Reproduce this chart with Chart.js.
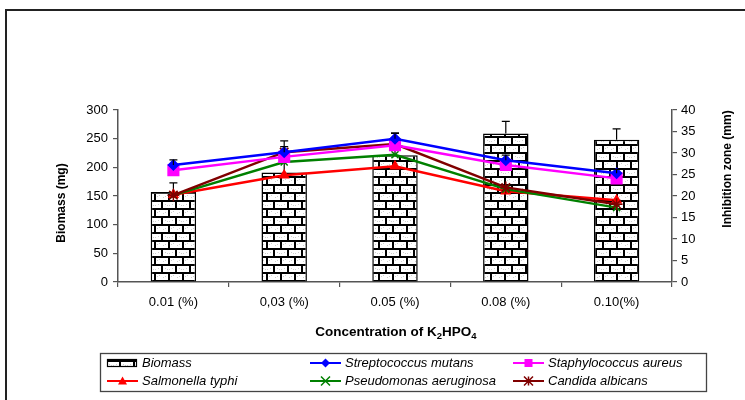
<!DOCTYPE html>
<html>
<head>
<meta charset="utf-8">
<script src="https://cdn.jsdelivr.net/npm/chart.js"></script>
<style>
    html, body { margin: 0; padding: 0; background: #fff; }
    #grafico { display: block; }
</style>
</head>
<body>
<canvas id="grafico" width="745" height="400"></canvas>
<script>
// dados
const categorias = ['0.01 (%)', '0,03 (%)', '0.05 (%)', '0.08 (%)', '0.10(%)']
const biomassa = [157, 191, 221, 259, 248]
const biomassaErro = [16, 55, 38, 21, 19]
const strepMutans = [27.2, 30.2, 33.3, 28.3, 25.3]
const strepErro = [1.2, 1.3, 1.4, 1.2, 0.9]
const staphAureus = [26.0, 29.1, 31.8, 27.2, 24.1]
const salmonella = [20.3, 24.8, 26.9, 21.1, 19.0]
const pseudomonas = [20.2, 27.9, 29.6, 21.6, 17.3]
const candida = [20.2, 30.2, 32.1, 22.0, 18.1]

Chart.defaults.font.family = '"Liberation Sans", Arial, sans-serif'
Chart.defaults.color = '#000'

const fonte = '"Liberation Sans", Arial, sans-serif'

/*
* padrao de tijolos das barras
*/
const criarTijolo = (ctx) => {
    const c = document.createElement('canvas')
    c.width = 14
    c.height = 16
    const g = c.getContext('2d')
    g.fillStyle = '#fff'
    g.fillRect(0, 0, 14, 16)
    g.fillStyle = '#cfcfcf';
    [[3, 4], [9, 5], [5, 3], [11, 4], [4, 12], [1, 13], [11, 12], [13, 13]].forEach(([x, y]) => g.fillRect(x, y, 1, 1))
    g.fillStyle = '#000'
    g.fillRect(0, 0, 14, 2)
    g.fillRect(0, 8, 14, 2)
    g.fillRect(0, 0, 2, 8)
    g.fillRect(7, 8, 2, 8)
    return ctx.createPattern(c, 'repeat')
}

const desenharMarcador = (ctx, tipo, x, y, r, cor) => {
    ctx.save()
    ctx.fillStyle = cor
    ctx.strokeStyle = cor
    ctx.lineWidth = 1.5
    ctx.beginPath()
    if (tipo === 'rectRot') {
        ctx.moveTo(x, y - r); ctx.lineTo(x + r, y); ctx.lineTo(x, y + r); ctx.lineTo(x - r, y); ctx.closePath(); ctx.fill()
    } else if (tipo === 'rect') {
        ctx.fillRect(x - r, y - r, 2 * r, 2 * r)
    } else if (tipo === 'triangle') {
        ctx.moveTo(x, y - r); ctx.lineTo(x + r, y + r * 0.8); ctx.lineTo(x - r, y + r * 0.8); ctx.closePath(); ctx.fill()
    } else if (tipo === 'crossRot') {
        ctx.moveTo(x - r, y - r); ctx.lineTo(x + r, y + r); ctx.moveTo(x + r, y - r); ctx.lineTo(x - r, y + r); ctx.stroke()
    } else if (tipo === 'star') {
        ctx.moveTo(x - r, y - r); ctx.lineTo(x + r, y + r); ctx.moveTo(x + r, y - r); ctx.lineTo(x - r, y + r)
        ctx.moveTo(x, y - r); ctx.lineTo(x, y + r); ctx.stroke()
    }
    ctx.restore()
}

const canvas = document.getElementById('grafico')
const ctx = canvas.getContext('2d')
const tijolo = criarTijolo(ctx)

// barras de erro (so para cima)
const errosPlugin = {
    id: 'erros',
    afterDatasetDraw(chart, args) {
        const ds = chart.data.datasets[args.index]
        if (!ds.erros) return
        const esc = chart.scales[ds.yAxisID]
        const c = chart.ctx
        c.save()
        c.strokeStyle = '#000'
        c.lineWidth = 1.2
        args.meta.data.forEach((el, i) => {
            const y0 = esc.getPixelForValue(ds.data[i])
            const yt = esc.getPixelForValue(ds.data[i] + ds.erros[i])
            c.beginPath()
            c.moveTo(el.x, y0)
            c.lineTo(el.x, yt)
            c.moveTo(el.x - 4, yt)
            c.lineTo(el.x + 4, yt)
            c.stroke()
        })
        c.restore()
    }
}

const itensLegenda = [
    { texto: 'Biomass', tipo: 'barra', x: 107, y: 363 },
    { texto: 'Streptococcus mutans', tipo: 'rectRot', cor: '#0000ff', x: 310, y: 363 },
    { texto: 'Staphylococcus aureus', tipo: 'rect', cor: '#ff00ff', x: 513, y: 363 },
    { texto: 'Salmonella typhi', tipo: 'triangle', cor: '#ff0000', x: 107, y: 381 },
    { texto: 'Pseudomonas aeruginosa', tipo: 'crossRot', cor: '#008000', x: 310, y: 381 },
    { texto: 'Candida albicans', tipo: 'star', cor: '#800000', x: 513, y: 381 }
]

const textosPlugin = {
    id: 'textos',
    afterDraw(chart) {
        const c = chart.ctx
        c.save()

        // moldura externa
        c.strokeStyle = '#222'
        c.lineWidth = 2
        c.beginPath()
        c.moveTo(6, 402)
        c.lineTo(6, 10)
        c.lineTo(747, 10)
        c.stroke()

        // titulo eixo x com subscritos
        c.fillStyle = '#000'
        c.textBaseline = 'middle'
        const partes = [['Concentration of K', 13.5, 0], ['2', 9.5, 4], ['HPO', 13.5, 0], ['4', 9.5, 4]]
        let total = 0
        partes.forEach(p => { c.font = 'bold ' + p[1] + 'px ' + fonte; total += c.measureText(p[0]).width })
        let px = 396 - total / 2
        partes.forEach(p => {
            c.font = 'bold ' + p[1] + 'px ' + fonte
            c.textAlign = 'left'
            c.fillText(p[0], px, 332 + p[2])
            px += c.measureText(p[0]).width
        })

        // titulos eixos y
        c.font = 'bold 12px ' + fonte
        c.textAlign = 'center'
        c.save()
        c.translate(62, 203)
        c.rotate(-Math.PI / 2)
        c.fillText('Biomass (mg)', 0, 0)
        c.restore()
        c.save()
        c.translate(728, 169)
        c.rotate(-Math.PI / 2)
        c.fillText('Inhibition zone (mm)', 0, 0)
        c.restore()

        // legenda
        c.strokeStyle = '#444'
        c.lineWidth = 1.3
        c.strokeRect(100.5, 353.5, 606, 38)
        c.font = 'italic 13px ' + fonte
        c.textAlign = 'left'
        itensLegenda.forEach(it => {
            if (it.tipo === 'barra') {
                c.fillStyle = tijolo
                c.fillRect(it.x, it.y - 4, 30, 8)
                c.strokeStyle = '#000'
                c.lineWidth = 1.2
                c.strokeRect(it.x + 0.5, it.y - 3.5, 29, 7)
            } else {
                c.strokeStyle = it.cor
                c.lineWidth = 2
                c.beginPath()
                c.moveTo(it.x, it.y)
                c.lineTo(it.x + 31, it.y)
                c.stroke()
                desenharMarcador(c, it.tipo, it.x + 15.5, it.y, it.tipo === 'rect' ? 4 : 4.5, it.cor)
            }
            c.fillStyle = '#000'
            c.fillText(it.texto, it.x + 35, it.y)
        })
        c.restore()
    }
}

const linha = (label, dados, cor, estilo, raio, ordem) => ({
    type: 'line',
    label: label,
    data: dados,
    yAxisID: 'y1',
    borderColor: cor,
    backgroundColor: cor,
    pointBackgroundColor: cor,
    pointBorderColor: cor,
    pointBorderWidth: 1.5,
    pointStyle: estilo,
    pointRadius: raio,
    borderWidth: 2.5,
    tension: 0,
    order: ordem
})

const serieStrep = linha('Streptococcus mutans', strepMutans, '#0000ff', 'rectRot', 5, 1)
serieStrep.erros = strepErro

new Chart(ctx, {
    type: 'bar',
    data: {
        labels: categorias,
        datasets: [
            {
                label: 'Biomass',
                data: biomassa,
                erros: biomassaErro,
                yAxisID: 'y',
                backgroundColor: tijolo,
                borderColor: '#000',
                borderWidth: 1.5,
                barPercentage: 0.41,
                categoryPercentage: 1,
                order: 10
            },
            linha('Salmonella typhi', salmonella, '#ff0000', 'triangle', 5, 5),
            linha('Pseudomonas aeruginosa', pseudomonas, '#008000', 'crossRot', 5, 4),
            linha('Candida albicans', candida, '#800000', 'star', 6, 3),
            linha('Staphylococcus aureus', staphAureus, '#ff00ff', 'rect', 7.5, 2),
            serieStrep
        ]
    },
    options: {
        responsive: false,
        animation: false,
        layout: { padding: { top: 110, left: 0, right: 0, bottom: 0 } },
        plugins: {
            legend: { display: false },
            tooltip: { enabled: false },
            title: { display: false }
        },
        scales: {
            x: {
                grid: { offset: true, drawOnChartArea: false, tickLength: 5, color: '#555', lineWidth: 1.2 },
                border: { color: '#555', width: 1.5 },
                ticks: { font: { size: 13 }, padding: 8, maxRotation: 0, autoSkip: false },
                afterFit: (s) => { s.height = 118 }
            },
            y: {
                position: 'left',
                min: 0,
                max: 300,
                grid: { drawOnChartArea: false, tickLength: 5, color: '#555', lineWidth: 1.2 },
                border: { color: '#555', width: 1.5 },
                ticks: { stepSize: 50, font: { size: 13 }, padding: 5 },
                afterFit: (s) => { s.width = 118 }
            },
            y1: {
                position: 'right',
                min: 0,
                max: 40,
                grid: { drawOnChartArea: false, tickLength: 5, color: '#555', lineWidth: 1.2 },
                border: { color: '#555', width: 1.5 },
                ticks: { stepSize: 5, font: { size: 13 }, padding: 4 },
                afterFit: (s) => { s.width = 73 }
            }
        }
    },
    plugins: [errosPlugin, textosPlugin]
})
</script>
</body>
</html>
